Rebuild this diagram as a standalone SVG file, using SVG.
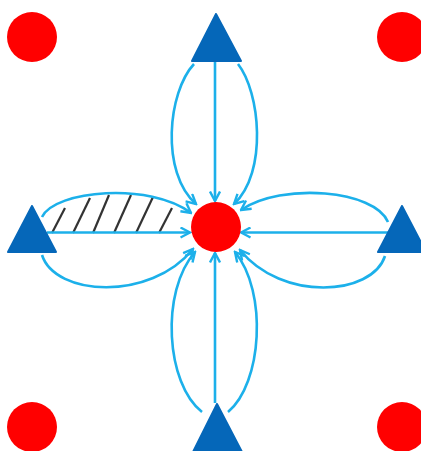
<svg xmlns="http://www.w3.org/2000/svg" width="421" height="451" viewBox="0 0 421 451">
<style>
.red{fill:#ff0000}
.tri{fill:#0567b9;stroke:#0567b9;stroke-width:2;stroke-linejoin:round}
.fl{fill:none;stroke:#1cb0ea;stroke-width:2.6;marker-end:url(#arr)}
.hatch{stroke:#333333;stroke-width:2.2}
</style>
<defs>
<marker id="arr" markerUnits="userSpaceOnUse" viewBox="0 0 12 12" refX="10.5" refY="6" markerWidth="12" markerHeight="12" orient="auto">
<path d="M1,1 L10.5,6 L1,11" fill="none" stroke="#1cb0ea" stroke-width="2.4" stroke-linejoin="miter"/>
</marker>
</defs>
<g id="hatching">
<line class="hatch" x1="52" y1="233" x2="65" y2="208"/>
<line class="hatch" x1="73" y1="233" x2="90" y2="198"/>
<line class="hatch" x1="93" y1="233" x2="109" y2="195"/>
<line class="hatch" x1="114" y1="233" x2="131" y2="195"/>
<line class="hatch" x1="136" y1="233" x2="153" y2="197"/>
<line class="hatch" x1="159" y1="233" x2="172" y2="208"/>
</g>
<g id="connectors">
<path class="fl" d="M215,62 L215,201"/>
<path class="fl" d="M194,64 C168,92 160,172 196,204"/>
<path class="fl" d="M238,64 C260,92 268,172 234,204"/>
<path class="fl" d="M215,403 L215,253"/>
<path class="fl" d="M202,412 C166,384 160,292 195,252"/>
<path class="fl" d="M228,412 C262,384 268,292 235,252"/>
<path class="fl" d="M47,232.5 L190,232.5"/>
<path class="fl" d="M42,217 C55,190 150,182 191,213"/>
<path class="fl" d="M42,255 C55,296 150,302 193,249"/>
<path class="fl" d="M388,232.5 L241,232.5"/>
<path class="fl" d="M388,222 C375,190 282,182 241,210"/>
<path class="fl" d="M385,256 C372,296 282,302 240,250"/>
</g>
<g id="tri-top"><polygon class="tri" points="216,14 192,61 241,61"/></g>
<g id="tri-left"><polygon class="tri" points="32,206 8,252 56,252"/></g>
<g id="tri-right"><polygon class="tri" points="402,206 378,252 426,252"/></g>
<g id="tri-bottom"><polygon class="tri" points="217,404 193,452 242,452"/></g>
<g id="center"><circle class="red" cx="216" cy="227" r="25"/></g>
<g id="corner-tl"><circle class="red" cx="32" cy="37" r="25"/></g>
<g id="corner-tr"><circle class="red" cx="402" cy="37" r="25"/></g>
<g id="corner-bl"><circle class="red" cx="32" cy="427" r="25"/></g>
<g id="corner-br"><circle class="red" cx="402" cy="427" r="25"/></g>
</svg>
